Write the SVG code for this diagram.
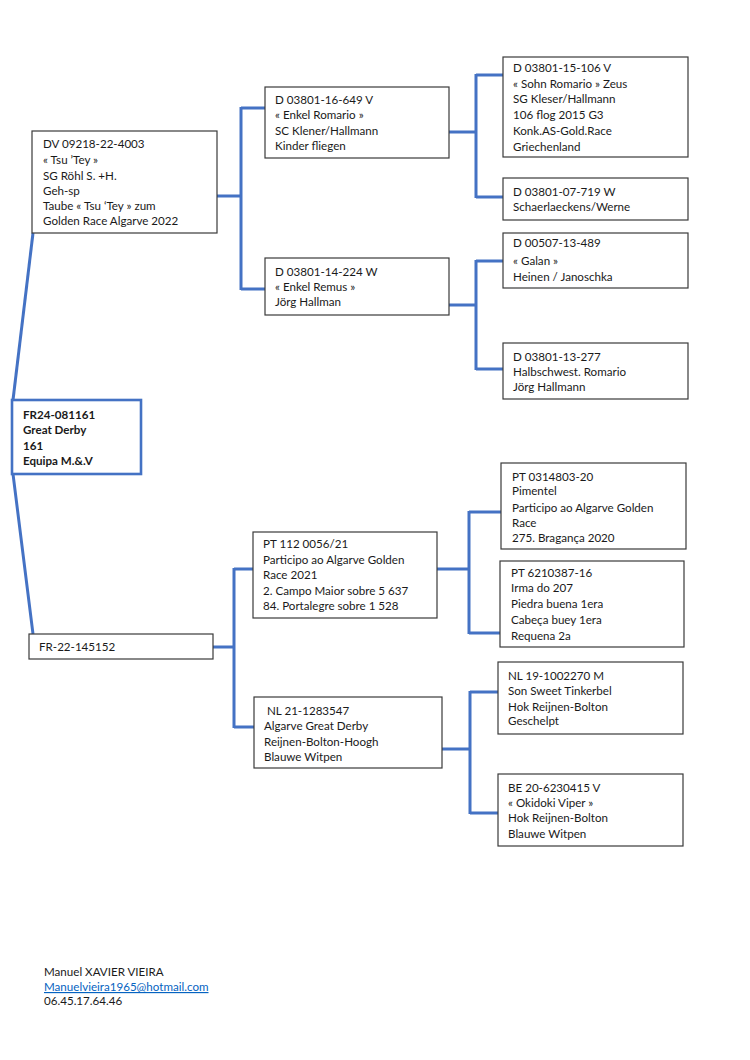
<svg xmlns="http://www.w3.org/2000/svg" width="750" height="1060" viewBox="0 0 750 1060">
<style>
.bg{fill:#ffffff}
.box{fill:#ffffff;stroke:#3a3a3a;stroke-width:1.2}
.root{fill:#ffffff;stroke:#4472C4;stroke-width:2.6}
.c{fill:none;stroke:#4472C4;stroke-width:3}
text{font-family:Lato,"Open Sans","Liberation Sans",sans-serif;font-size:11.6px;fill:#1a1a1a}
.b{font-weight:bold}
.link{fill:#0563C1;text-decoration:underline}
</style>
<rect class="bg" x="0" y="0" width="750" height="1060"/>
<g id="connectors">
<path class="c" d="M13,400 L33,233"/>
<path class="c" d="M13,474 L33,634"/>
<path class="c" d="M217,196 H241 M241,107 V290 M241,108 H265 M241,289 H265"/>
<path class="c" d="M449,132 H476 M476,74 V198 M476,75 H503 M476,197 H503"/>
<path class="c" d="M449,305 H476 M476,260 V370 M476,261 H503 M476,369 H503"/>
<path class="c" d="M213,647 H234 M234,568 V728 M234,569 H253 M234,727 H254"/>
<path class="c" d="M437,569 H469 M469,511 V634 M469,512 H501 M469,633 H500"/>
<path class="c" d="M442,749 H470 M470,691 V814 M470,692 H498 M470,813 H498"/>
</g>
<g id="n-root">
<rect class="root" x="12" y="400" width="129" height="74"/>
<text class="b" x="23" y="419">FR24-081161</text>
<text class="b" x="23" y="434">Great Derby</text>
<text class="b" x="23" y="450">161</text>
<text class="b" x="23" y="465">Equipa M.&amp;.V</text>
</g>
<g id="n-dv">
<rect class="box" x="32" y="131" width="185" height="102"/>
<text x="43" y="148">DV 09218-22-4003</text>
<text x="43" y="164">« Tsu ’Tey »</text>
<text x="43" y="180">SG Röhl S. +H.</text>
<text x="43" y="195">Geh-sp</text>
<text x="43" y="210">Taube « Tsu ‘Tey » zum</text>
<text x="43" y="225">Golden Race Algarve 2022</text>
</g>
<g id="n-enkel-romario">
<rect class="box" x="265" y="87" width="184" height="71"/>
<text x="275" y="104">D 03801-16-649 V</text>
<text x="275" y="119">« Enkel Romario »</text>
<text x="275" y="135">SC Klener/Hallmann</text>
<text x="275" y="150">Kinder fliegen</text>
</g>
<g id="n-enkel-remus">
<rect class="box" x="265" y="258" width="184" height="57"/>
<text x="275" y="276">D 03801-14-224 W</text>
<text x="275" y="291">« Enkel Remus »</text>
<text x="275" y="306">Jörg Hallman</text>
</g>
<g id="n-sohn-romario">
<rect class="box" x="503" y="57" width="185" height="100"/>
<text x="513" y="72">D 03801-15-106 V</text>
<text x="513" y="88">« Sohn Romario » Zeus</text>
<text x="513" y="103">SG Kleser/Hallmann</text>
<text x="513" y="119">106 flog 2015 G3</text>
<text x="513" y="135">Konk.AS-Gold.Race</text>
<text x="513" y="151">Griechenland</text>
</g>
<g id="n-schaerlaeckens">
<rect class="box" x="503" y="178" width="185" height="42"/>
<text x="513" y="196">D 03801-07-719 W</text>
<text x="513" y="211">Schaerlaeckens/Werne</text>
</g>
<g id="n-galan">
<rect class="box" x="503" y="233" width="185" height="55"/>
<text x="513" y="247">D 00507-13-489</text>
<text x="513" y="265">« Galan »</text>
<text x="513" y="281">Heinen / Janoschka</text>
</g>
<g id="n-halbschwest">
<rect class="box" x="503" y="343" width="185" height="56"/>
<text x="513" y="361">D 03801-13-277</text>
<text x="513" y="376">Halbschwest. Romario</text>
<text x="513" y="391">Jörg Hallmann</text>
</g>
<g id="n-fr22">
<rect class="box" x="29" y="634" width="184" height="25"/>
<text x="39" y="651">FR-22-145152</text>
</g>
<g id="n-pt112">
<rect class="box" x="253" y="532" width="184" height="86"/>
<text x="263" y="548">PT 112 0056/21</text>
<text x="263" y="564">Participo ao Algarve Golden</text>
<text x="263" y="579">Race 2021</text>
<text x="263" y="595">2. Campo Maior sobre 5 637</text>
<text x="263" y="610">84. Portalegre sobre 1 528</text>
</g>
<g id="n-nl21">
<rect class="box" x="254" y="697" width="188" height="71"/>
<text x="267" y="715">NL 21-1283547</text>
<text x="264" y="730">Algarve Great Derby</text>
<text x="264" y="746">Reijnen-Bolton-Hoogh</text>
<text x="264" y="761">Blauwe Witpen</text>
</g>
<g id="n-pt0314803">
<rect class="box" x="501" y="463" width="185" height="86"/>
<text x="512" y="481">PT 0314803-20</text>
<text x="512" y="495">Pimentel</text>
<text x="512" y="512">Participo ao Algarve Golden</text>
<text x="512" y="527">Race</text>
<text x="512" y="542">275. Bragança 2020</text>
</g>
<g id="n-pt6210387">
<rect class="box" x="500" y="561" width="184" height="86"/>
<text x="511" y="577">PT 6210387-16</text>
<text x="511" y="592">Irma do 207</text>
<text x="511" y="608">Piedra buena 1era</text>
<text x="511" y="624">Cabeça buey 1era</text>
<text x="511" y="640">Requena 2a</text>
</g>
<g id="n-nl19">
<rect class="box" x="498" y="662" width="185" height="72"/>
<text x="508" y="680">NL 19-1002270 M</text>
<text x="508" y="695">Son Sweet Tinkerbel</text>
<text x="508" y="711">Hok Reijnen-Bolton</text>
<text x="508" y="725">Geschelpt</text>
</g>
<g id="n-be20">
<rect class="box" x="498" y="774" width="185" height="72"/>
<text x="508" y="792">BE 20-6230415 V</text>
<text x="508" y="807">« Okidoki Viper »</text>
<text x="508" y="822">Hok Reijnen-Bolton</text>
<text x="508" y="838">Blauwe Witpen</text>
</g>
<g id="footer">
<text x="44" y="976">Manuel XAVIER VIEIRA</text>
<text class="link" x="44" y="991">Manuelvieira1965@hotmail.com</text>
<text x="44" y="1005">06.45.17.64.46</text>
</g>
</svg>
